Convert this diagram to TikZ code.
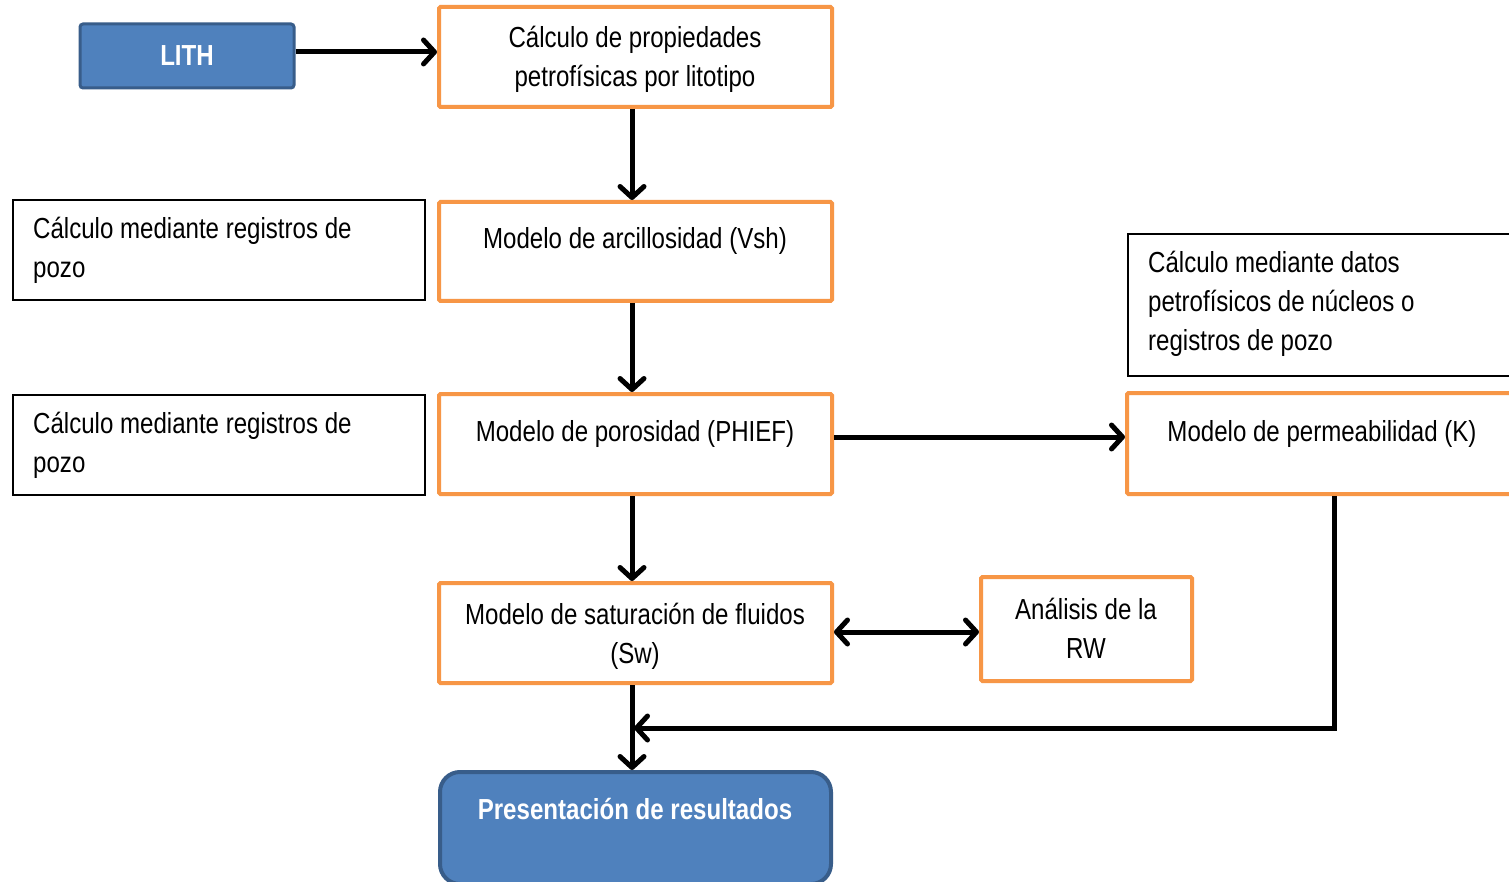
\documentclass[tikz,border=0pt]{standalone}
\usepackage{fontspec}
\setmainfont{Liberation Sans}[FakeStretch=0.83]
\usetikzlibrary{arrows.meta}
\definecolor{borange}{HTML}{F79646}
\definecolor{bblue}{HTML}{4F81BD}
\definecolor{bdark}{HTML}{385D8A}
\begin{document}
\begin{tikzpicture}[x=1pt,y=-1pt,
  obox/.style={draw=borange, line width=4pt, fill=white, rounded corners=1.5pt, inner sep=0pt},
  kbox/.style={draw=black, line width=2pt, fill=white, inner sep=0pt},
  bbox/.style={draw=bdark, line width=3pt, fill=bblue, inner sep=0pt},
  txt/.style={font=\fontsize{29}{39}\selectfont, inner sep=0pt, anchor=base},
  ltxt/.style={font=\fontsize{29}{39}\selectfont, inner sep=0pt, anchor=base west},
  wtxt/.style={font=\fontsize{29}{39}\selectfont\bfseries, text=white, inner sep=0pt, anchor=base},
  tip/.style={Straight Barb[length=11pt,width=24pt,round]},
  conn/.style={line width=5pt, -{Straight Barb[length=11pt,width=24pt,round]}},
  dconn/.style={line width=5pt, {Straight Barb[length=11pt,width=24pt,round]}-{Straight Barb[length=11pt,width=24pt,round]}},
]
\useasboundingbox (0,0) rectangle (1509,882);
\clip (0,0) rectangle (1509,882);
\fill[white] (0,0) rectangle (1509,882);

% boxes
\node[bbox, rounded corners=3pt, minimum width=214pt, minimum height=64pt] (lith) at (187,56) {};
\node[obox, minimum width=393pt, minimum height=100pt] (b1) at (635.5,57) {};
\node[obox, minimum width=393pt, minimum height=99pt] (b2) at (635.5,251.5) {};
\node[obox, minimum width=393pt, minimum height=100pt] (b3) at (635.5,444) {};
\node[obox, minimum width=393pt, minimum height=100pt] (b4) at (635.5,633) {};
\node[bbox, line width=4pt, rounded corners=20pt, minimum width=391pt, minimum height=112pt] (res) at (635.5,828) {};
\node[kbox, minimum width=412pt, minimum height=100pt] (k1) at (219,250) {};
\node[kbox, minimum width=412pt, minimum height=100pt] (k2) at (219,445) {};
\node[kbox, minimum width=430pt, minimum height=142pt] (k3) at (1343,305) {};
\node[obox, minimum width=430pt, minimum height=101pt] (perm) at (1342,443.5) {};
\node[obox, minimum width=211pt, minimum height=104pt] (rw) at (1086.5,629) {};

% texts
\node[wtxt] (tlith) at (187,66) {LITH};
\node[txt] (t1a) at (635,48) {Cálculo de propiedades};
\node[txt] (t1b) at (635,87) {petrofísicas por litotipo};
\node[txt] (t2) at (635,249) {Modelo de arcillosidad (Vsh)};
\node[txt] (t3) at (635,441) {Modelo de porosidad (PHIEF)};
\node[txt] (t4a) at (635,624) {Modelo de saturación de fluidos};
\node[txt] (t4b) at (635,663) {(Sw)};
\node[wtxt] (tres) at (635,819) {Presentación de resultados};
\node[ltxt] (k1a) at (33,239) {Cálculo mediante registros de};
\node[ltxt] (k1b) at (33,278) {pozo};
\node[ltxt] (k2a) at (33,433) {Cálculo mediante registros de};
\node[ltxt] (k2b) at (33,472) {pozo};
\node[ltxt] (k3a) at (1148,273) {Cálculo mediante datos};
\node[ltxt] (k3b) at (1148,312) {petrofísicos de núcleos o};
\node[ltxt] (k3c) at (1148,351) {registros de pozo};
\node[txt] (tperm) at (1322,441) {Modelo de permeabilidad (K)};
\node[txt] (trwa) at (1086,619) {Análisis de la};
\node[txt] (trwb) at (1086,658) {RW};

% connectors
\coordinate (pk) at (1334,0);
\coordinate (join) at (634,728);
\draw[conn] (lith.east |- 0,52) -- (b1.west |- 0,52);
\draw[conn] (b1.south -| 632,0) -- (b2.north -| 632,0);
\draw[conn] (b2.south -| 632,0) -- (b3.north -| 632,0);
\draw[conn] (b3.south -| 632,0) -- (b4.north -| 632,0);
\draw[conn] (b3.east |- 0,437) -- (perm.west |- 0,437);
\draw[dconn] (b4.east |- 0,632) -- (rw.west |- 0,632);
\draw[conn] (b4.south -| 632,0) -- (res.north -| 632,0);
\draw[conn] (perm.south -| pk) |- (join);
\end{tikzpicture}
\end{document}
